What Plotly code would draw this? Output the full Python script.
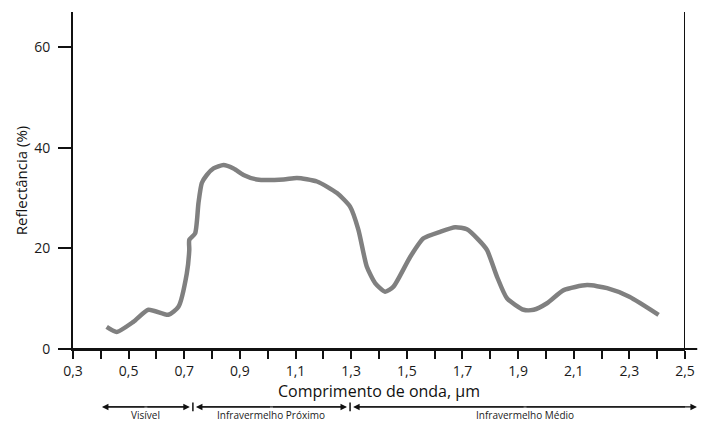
import plotly.graph_objects as go

# Data
wavelength = [0.421, 0.457, 0.517, 0.571, 0.643, 0.679, 0.709, 0.718, 0.718, 0.739,
              0.751, 0.763, 0.781, 0.805, 0.841, 0.877, 0.913, 0.961, 1.057, 1.105,
              1.177, 1.249, 1.296, 1.326, 1.356, 1.386, 1.422, 1.452, 1.512, 1.560,
              1.620, 1.674, 1.716, 1.758, 1.788, 1.824, 1.860, 1.920, 1.956, 2.004,
              2.064, 2.148, 2.220, 2.300, 2.405]
reflectance = [4.4, 3.4, 5.4, 7.8, 6.8, 8.4, 15.0, 19.7, 21.7, 23.0,
               29.0, 33.0, 34.6, 35.9, 36.6, 35.9, 34.6, 33.7, 33.7, 34.0,
               33.3, 31.0, 28.3, 23.7, 16.4, 13.1, 11.4, 12.4, 18.3, 22.0,
               23.3, 24.2, 23.8, 21.7, 19.7, 14.4, 10.1, 7.8, 7.8, 9.1,
               11.7, 12.7, 12.1, 10.4, 6.8]

x_tick_vals = [0.3, 0.5, 0.7, 0.9, 1.1, 1.3, 1.5, 1.7, 1.9, 2.1, 2.3, 2.5]
x_tick_text = ["0,3", "0,5", "0,7", "0,9", "1,1", "1,3", "1,5", "1,7", "1,9", "2,1", "2,3", "2,5"]
y_tick_vals = [0, 20, 40, 60]

region_names = ["Visível", "Infravermelho Próximo", "Infravermelho Médio"]
region_bounds = [0.404, 0.731, 1.296, 2.543]

FONT = "Open Sans"

fig = go.Figure()
fig.add_trace(go.Scatter(
    x=wavelength, y=reflectance, mode="lines",
    line=dict(color="#808080", width=4.5, shape="spline", smoothing=0.6),
    hoverinfo="skip", showlegend=False,
))

fig.update_layout(
    width=706, height=423,
    margin=dict(l=73, r=21, t=12, b=74, autoexpand=False),
    paper_bgcolor="white", plot_bgcolor="white",
    font=dict(family=FONT, color="#111"),
    showlegend=False,
)

fig.update_xaxes(
    range=[0.3, 2.5], showgrid=False, zeroline=False, automargin=False,
    showline=True, linecolor="#111", linewidth=2,
    tickmode="array", tickvals=x_tick_vals, ticktext=x_tick_text,
    ticks="outside", ticklen=8, tickwidth=2, tickcolor="#111",
    tickfont=dict(size=14, color="#1a1a1a", family=FONT),
    minor=dict(dtick=0.1, tick0=0.3, ticks="outside", ticklen=8, tickwidth=2, tickcolor="#111", showgrid=False),
    title=dict(text="Comprimento de onda, µm", font=dict(size=16, color="#111", family=FONT), standoff=2),
)
fig.update_yaxes(
    range=[0, 67], showgrid=False, zeroline=False, automargin=False,
    showline=True, linecolor="#111", linewidth=2,
    tickmode="array", tickvals=y_tick_vals,
    ticks="outside", ticklen=13, tickwidth=2, tickcolor="#111", ticklabelstandoff=5,
    tickfont=dict(size=14, color="#1a1a1a", family=FONT),
    title=dict(text="Reflectância (%)", font=dict(size=15, color="#111", family=FONT), standoff=3),
)

# Right border line and extended x-axis line
fig.add_shape(type="line", xref="x", yref="paper", x0=2.5, x1=2.5, y0=0, y1=1,
              line=dict(color="#111", width=2))
fig.add_shape(type="line", xref="paper", yref="paper", x0=0, x1=1.02, y0=0, y1=0,
              line=dict(color="#111", width=2))

# Region arrows below the axis
arrow_y = -0.172
label_y = -0.197
gap = 0.011
for i, name in enumerate(region_names):
    a = region_bounds[i] + (gap if i > 0 else 0)
    b = region_bounds[i + 1] - (gap if i < len(region_names) - 1 else 0)
    mid = (a + b) / 2
    fig.add_shape(type="line", xref="x", yref="paper", x0=a + 0.02, x1=b - 0.02,
                  y0=arrow_y, y1=arrow_y, line=dict(color="#111", width=1.3))
    for end in (a, b):
        fig.add_annotation(x=end, y=arrow_y, xref="x", yref="paper",
                           ax=mid, ay=0, axref="x", ayref="pixel",
                           showarrow=True, arrowhead=2, arrowsize=1, arrowwidth=1.3,
                           arrowcolor="#111", text="")
    fig.add_annotation(x=mid, y=label_y, xref="x", yref="paper", showarrow=False,
                       yanchor="middle", xanchor="center", borderpad=0,
                       text=name, font=dict(size=10, color="#222", family=FONT))
for bnd in region_bounds[1:-1]:
    fig.add_shape(type="line", xref="x", yref="paper", x0=bnd, x1=bnd,
                  y0=arrow_y - 0.013, y1=arrow_y + 0.013, line=dict(color="#111", width=1.5))

fig.write_html("out.html", config={"displayModeBar": False},
               post_script="document.body.style.margin='0';")
